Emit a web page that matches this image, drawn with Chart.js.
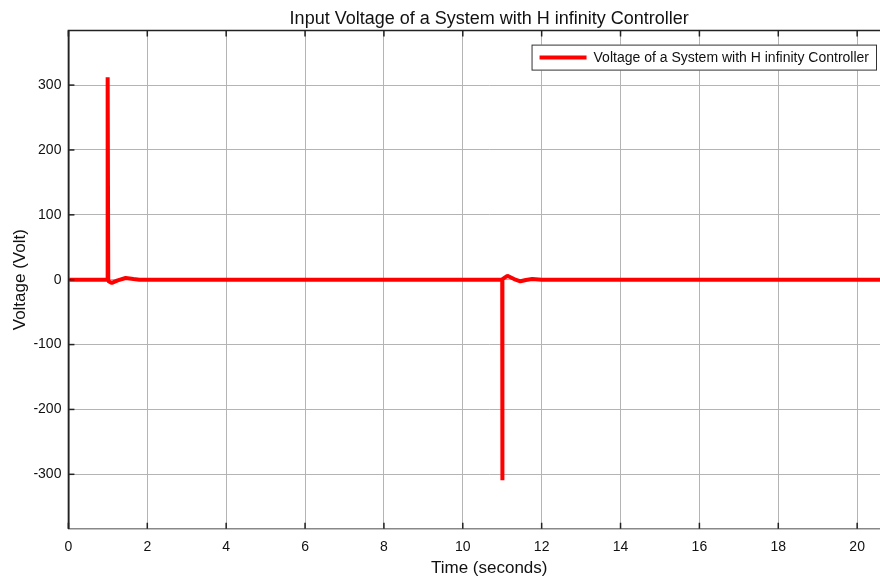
<!DOCTYPE html>
<html>
<head>
<meta charset="utf-8">
<script src="https://cdn.jsdelivr.net/npm/chart.js@4.4.0/dist/chart.umd.min.js"></script>
<style>
  html, body { margin: 0; padding: 0; background: #fff; }
  #wrap { width: 880px; height: 579px; overflow: hidden; position: relative; }
  #box { width: 910px; height: 579px; }
</style>
</head>
<body>
<div id="wrap"><div id="box"><canvas id="voltageChart" width="910" height="579"></canvas></div></div>
<script>
  // Data
  const timeValues = [0, 0.99, 0.995, 0.995, 1.01, 1.1, 1.25, 1.45, 1.65, 1.8, 2.5, 10.99, 11.0, 11.0, 11.01, 11.13, 11.3, 11.46, 11.6, 11.76, 12.0, 21.5];
  const voltageValues = [0, 0, 0, 312, -2, -5, -1, 2.6, 1, 0, 0, 0, 0, -309, 1, 6, 1, -2.5, -0.5, 1, 0, 0];
  const xTicks = [0, 2, 4, 6, 8, 10, 12, 14, 16, 18, 20];
  const yTicks = [-300, -200, -100, 0, 100, 200, 300];
  const seriesLabel = 'Voltage of a System with H infinity Controller';

  const points = timeValues.map((t, i) => ({ x: t, y: voltageValues[i] }));
  const FONT = 'Liberation Sans, Arial, sans-serif';

  // Frame, inner ticks and legend box, MATLAB style
  const framePlugin = {
    id: 'frame',
    afterDraw(chart) {
      const ctx = chart.ctx;
      const a = chart.chartArea;
      ctx.save();
      ctx.strokeStyle = '#222';
      ctx.lineWidth = 1.5;
      ctx.beginPath();
      ctx.moveTo(a.left, a.bottom);
      ctx.lineTo(a.left, a.top);
      ctx.lineTo(a.right, a.top);
      ctx.stroke();
      xTicks.forEach(v => {
        const px = chart.scales.x.getPixelForValue(v);
        ctx.beginPath();
        ctx.moveTo(px, a.top); ctx.lineTo(px, a.top + 6);
        ctx.moveTo(px, a.bottom); ctx.lineTo(px, a.bottom - 6);
        ctx.stroke();
      });
      yTicks.forEach(v => {
        const py = chart.scales.y.getPixelForValue(v);
        ctx.beginPath();
        ctx.moveTo(a.left, py); ctx.lineTo(a.left + 6, py);
        ctx.stroke();
      });

      // legend
      ctx.font = '14px ' + FONT;
      const tw = ctx.measureText(seriesLabel).width;
      const right = a.right - 33;
      const top = a.top + 14;
      const h = 26;
      const w = tw + 70;
      const left = right - w;
      ctx.fillStyle = '#fff';
      ctx.fillRect(left, top, w, h);
      ctx.strokeStyle = '#333';
      ctx.lineWidth = 1;
      ctx.strokeRect(left + 0.5, top + 0.5, w - 1, h - 1);
      ctx.strokeStyle = '#ff0000';
      ctx.lineWidth = 4;
      ctx.beginPath();
      ctx.moveTo(left + 8, top + h / 2);
      ctx.lineTo(left + 55, top + h / 2);
      ctx.stroke();
      ctx.fillStyle = '#111';
      ctx.textBaseline = 'middle';
      ctx.fillText(seriesLabel, left + 62, top + h / 2 + 1);
      ctx.restore();
    }
  };

  const ctx = document.getElementById('voltageChart').getContext('2d');
  const voltageChart = new Chart(ctx, {
    type: 'line',
    data: {
      datasets: [{
        label: seriesLabel,
        data: points,
        borderColor: '#ff0000',
        backgroundColor: '#ff0000',
        borderWidth: 4,
        borderJoinStyle: 'bevel',
        pointRadius: 0,
        tension: 0,
        fill: false
      }]
    },
    options: {
      responsive: false,
      animation: false,
      layout: { padding: { left: 4, right: 0, top: 0, bottom: 0 } },
      plugins: {
        title: {
          display: true,
          text: 'Input Voltage of a System with H infinity Controller',
          fullSize: false,
          color: '#111',
          font: { family: FONT, size: 18, weight: 'normal' },
          padding: { top: 8, bottom: 1 }
        },
        legend: { display: false },
        tooltip: { enabled: false }
      },
      scales: {
        x: {
          type: 'linear',
          min: 0,
          max: 21.34,
          afterBuildTicks: scale => { scale.ticks = xTicks.map(v => ({ value: v })); },
          grid: { color: '#b4b4b4', lineWidth: 1, tickLength: 0, drawTicks: false },
          border: { display: true, color: '#888', width: 1.5 },
          ticks: {
            color: '#111',
            padding: 10,
            maxRotation: 0,
            font: { family: FONT, size: 14 }
          },
          title: {
            display: true,
            text: 'Time (seconds)',
            color: '#111',
            font: { family: FONT, size: 17 },
            padding: { top: -7, bottom: 0 }
          }
        },
        y: {
          min: -384,
          max: 384,
          afterBuildTicks: scale => { scale.ticks = yTicks.map(v => ({ value: v })); },
          grid: { color: '#b4b4b4', lineWidth: 1, tickLength: 0, drawTicks: false },
          border: { display: true, color: '#222', width: 1.5 },
          ticks: {
            color: '#111',
            padding: 7,
            font: { family: FONT, size: 14 }
          },
          title: {
            display: true,
            text: 'Voltage (Volt)',
            color: '#111',
            font: { family: FONT, size: 17 },
            padding: { top: 6, bottom: -4 }
          }
        }
      }
    },
    plugins: [framePlugin]
  });
</script>
</body>
</html>
